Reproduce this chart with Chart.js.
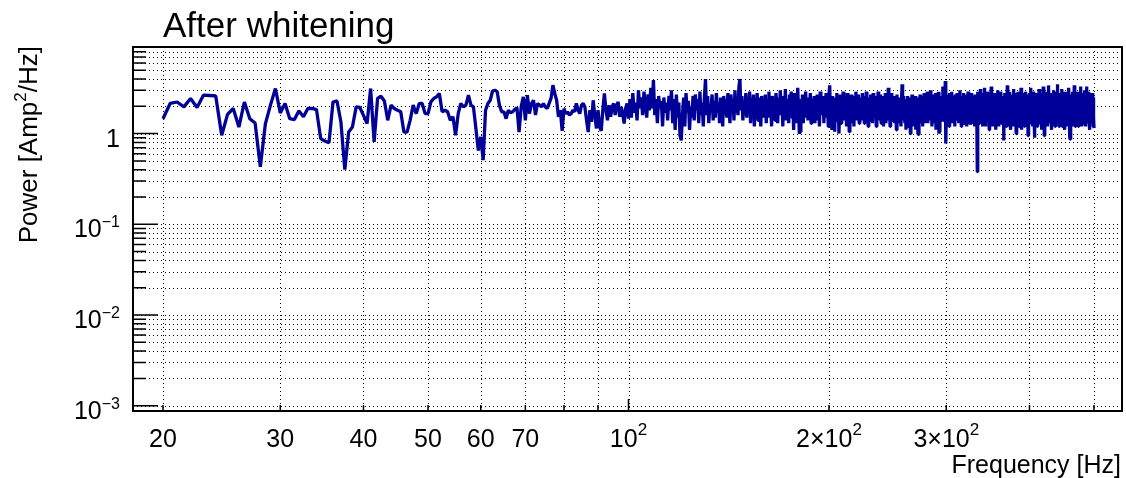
<!DOCTYPE html>
<html>
<head>
<meta charset="utf-8">
<title>After whitening</title>
<script src="https://cdn.jsdelivr.net/npm/chart.js@4.4.1/dist/chart.umd.min.js"></script>
<style>
  html, body { margin: 0; padding: 0; background: #fff; overflow: hidden; }
  canvas { display: block; }
</style>
</head>
<body>
<canvas id="psd" width="1126" height="478" style="width:1126px;height:478px"></canvas>
<script>
// frequency bins: 20 Hz .. 500 Hz, 0.5 Hz apart
const fStart = 20;
const fStep = 0.5;

// whitened power (Amp^2/Hz)
const power20to45 = [
  1.46, 2.15, 2.23, 1.97, 2.44, 1.94, 2.65, 2.63, 2.60, 0.96,
  1.63, 1.89, 1.18, 2.23, 1.46, 1.31, 0.43, 1.29, 2.06, 3.14,
  1.69, 2.15, 1.46, 1.43, 1.78, 1.53, 1.89, 1.90, 1.84, 0.88,
  0.83, 0.79, 2.23, 2.29, 1.34, 0.40, 1.04, 1.18, 1.97, 1.94,
  1.59, 1.29, 3.14, 0.81, 2.44, 2.58, 2.29, 1.40, 2.06, 1.89,
  1.81
];
const power45to100 = [
  1.74, 1.04, 1.04, 1.40, 2.06, 1.66, 2.15, 2.15, 1.66, 1.66,
  2.24, 2.44, 2.54, 2.77, 1.74, 1.81, 1.74, 1.40, 1.53, 0.96,
  1.66, 2.15, 1.97, 2.06, 2.65, 2.06, 1.97, 1.14, 0.65, 0.92,
  0.51, 1.81, 2.15, 2.33, 2.95, 3.01, 2.90, 2.06, 1.74, 1.74,
  1.46, 1.81, 1.70, 1.74, 1.85, 1.93, 1.04, 1.97, 2.54, 1.40,
  2.65, 1.66, 2.15, 2.33, 1.60, 2.15, 2.06, 1.97, 2.15, 1.97,
  1.89, 2.15, 2.44, 3.42, 2.77, 2.33, 1.53, 1.81, 1.07, 1.89,
  1.66, 1.74, 1.60, 1.66, 1.81, 1.74, 2.15, 1.81, 1.66, 2.06,
  2.15, 1.97, 1.40, 1.04, 1.81, 1.35, 2.33, 1.60, 1.14, 1.81,
  1.18, 1.07, 1.81, 2.77, 1.81, 1.40, 2.06, 1.53, 1.97, 2.15,
  1.60, 2.06, 2.24, 1.53, 1.97, 1.66, 1.29, 1.89, 2.15, 1.46
];
const power100to200 = [
  2.4, 1.5, 2.8, 1.7, 2.2, 1.4, 3.0, 1.9, 2.5, 1.6,
  2.9, 2.1, 1.5, 2.7, 1.8, 3.2, 1.9, 3.9, 1.6, 2.4,
  1.3, 2.6, 1.9, 2.3, 1.2, 2.5, 1.7, 2.2, 1.4, 2.6,
  1.8, 3.0, 1.3, 2.4, 1.1, 2.7, 1.5, 2.2, 0.95, 0.84,
  1.6, 2.5, 1.2, 2.8, 1.7, 2.3, 1.1, 2.0, 1.5, 2.6,
  1.4, 2.7, 1.8, 2.4, 1.3, 2.9, 1.6, 2.2, 1.2, 2.5,
  4.0, 1.6, 2.6, 1.3, 2.1, 1.8, 2.7, 1.4, 2.3, 1.5,
  2.8, 1.7, 2.2, 1.3, 2.5, 1.9, 1.2, 2.6, 1.6, 2.4,
  1.5, 2.8, 2.0, 1.3, 2.7, 1.8, 2.4, 1.4, 3.0, 1.7,
  2.5, 1.6, 3.3, 4.0, 1.8, 2.6, 1.4, 2.2, 1.6, 2.8,
  1.5, 2.4, 1.9, 2.9, 1.3, 2.2, 1.7, 2.7, 1.2, 2.3,
  1.6, 2.8, 1.4, 2.5, 2.0, 1.2, 2.6, 1.7, 2.3, 1.5,
  2.7, 1.3, 2.4, 1.8, 2.9, 1.5, 2.1, 1.2, 2.6, 1.7,
  2.3, 1.4, 2.8, 1.9, 1.3, 2.5, 1.6, 3.0, 1.8, 2.2,
  1.2, 2.6, 1.7, 3.1, 1.4, 2.4, 2.0, 1.3, 2.7, 1.6,
  2.9, 1.5, 2.3, 1.1, 2.8, 1.7, 2.5, 1.3, 3.2, 1.9,
  1.0, 1.05, 2.4, 1.6, 2.7, 1.3, 2.2, 1.8, 2.9, 1.5,
  2.5, 1.4, 2.1, 1.7, 2.8, 1.3, 2.4, 1.9, 1.5, 2.6,
  1.3, 2.3, 1.8, 2.7, 1.4, 2.5, 1.2, 2.9, 1.7, 2.2,
  1.6, 2.6, 1.3, 2.4, 1.9, 2.8, 1.5, 2.3, 1.2, 2.7
];
const power200to300 = [
  3.4, 1.5, 2.4, 1.1, 2.6, 1.7, 2.2, 1.05, 2.5, 1.4,
  2.8, 1.6, 2.3, 1.0, 1.8, 2.7, 1.3, 2.5, 1.6, 2.9,
  1.4, 2.2, 1.7, 2.6, 1.2, 2.8, 1.5, 2.4, 1.05, 2.3,
  1.8, 2.7, 1.3, 2.5, 1.9, 1.2, 2.6, 1.6, 2.9, 1.4,
  2.3, 1.5, 2.7, 1.3, 2.5, 1.8, 2.2, 1.4, 2.8, 1.6,
  2.4, 1.3, 2.6, 1.7, 2.9, 1.5, 2.2, 1.2, 2.5, 1.8,
  1.4, 2.7, 1.6, 2.3, 1.3, 2.8, 1.7, 2.4, 1.5, 2.6,
  1.2, 2.5, 1.8, 2.9, 1.4, 2.3, 1.6, 2.7, 1.3, 2.4,
  1.7, 2.6, 1.2, 2.2, 1.5, 2.8, 1.3, 2.4, 1.9, 1.4,
  3.2, 1.6, 2.5, 1.2, 2.3, 1.7, 2.8, 1.4, 2.1, 1.5,
  2.6, 1.3, 2.4, 1.8, 1.1, 2.7, 1.5, 2.2, 1.3, 2.5,
  1.6, 2.5, 1.2, 2.3, 3.5, 1.4, 2.6, 1.7, 2.2, 1.3,
  2.4, 1.1, 2.2, 1.5, 2.6, 1.2, 2.0, 1.4, 2.5, 1.0,
  2.3, 1.3, 2.7, 1.6, 2.1, 1.2, 2.4, 1.5, 2.6, 1.1,
  2.2, 1.4, 2.5, 1.0, 0.98, 2.3, 1.6, 2.7, 1.3, 2.4,
  1.5, 2.6, 1.2, 2.2, 1.7, 2.8, 1.4, 2.4, 1.3, 2.7,
  1.6, 2.9, 1.3, 2.5, 1.8, 2.3, 1.4, 3.0, 1.5, 2.4,
  1.2, 2.7, 1.7, 2.2, 1.3, 2.6, 1.5, 2.8, 1.1, 2.4,
  1.6, 2.5, 1.3, 2.9, 1.0, 1.05, 2.3, 1.7, 2.6, 1.4,
  2.4, 1.5, 3.3, 1.4, 2.6, 1.8, 2.2, 3.8, 0.78, 1.6
];
const power300to400 = [
  2.5, 1.3, 2.7, 1.6, 2.3, 1.2, 2.8, 1.5, 2.4, 1.7,
  2.9, 1.4, 2.2, 1.3, 2.6, 1.8, 2.4, 1.2, 2.7, 1.5,
  2.3, 1.4, 2.8, 1.6, 2.5, 1.3, 2.2, 1.7, 3.0, 1.4,
  2.4, 1.2, 2.6, 1.5, 2.2, 1.8, 2.8, 1.3, 2.5, 1.6,
  2.7, 1.4, 2.3, 1.2, 2.6, 1.7, 2.9, 1.5, 2.2, 1.3,
  2.5, 1.8, 2.4, 1.3, 2.8, 1.6, 2.2, 1.4, 2.6, 1.5,
  2.3, 1.2, 2.7, 1.7, 2.5, 1.8, 2.2, 0.38, 2.9, 1.6,
  2.4, 1.3, 2.6, 1.5, 3.1, 1.4, 2.3, 1.7, 2.8, 1.2,
  2.5, 1.6, 2.2, 1.3, 3.2, 1.5, 2.4, 1.2, 2.7, 1.8,
  2.3, 1.4, 2.9, 1.6, 2.5, 1.1, 2.6, 1.5, 2.2, 1.3,
  3.3, 1.5, 2.4, 1.2, 2.7, 1.7, 2.3, 1.4, 2.8, 1.6,
  2.5, 1.1, 2.6, 1.8, 2.2, 1.3, 3.0, 1.5, 2.4, 1.2,
  2.7, 1.6, 2.3, 1.4, 2.9, 1.3, 2.5, 1.7, 2.2, 1.5,
  2.6, 0.84, 2.4, 1.3, 2.8, 1.6, 2.3, 1.2, 2.5, 1.4,
  3.4, 1.5, 2.6, 1.2, 2.3, 1.7, 2.9, 1.4, 2.4, 1.1,
  2.7, 1.6, 2.2, 1.3, 2.5, 1.8, 3.1, 1.2, 2.4, 1.5,
  2.6, 1.4, 2.8, 1.0, 2.3, 1.6, 2.5, 1.3, 2.9, 1.5,
  2.2, 1.2, 2.7, 1.7, 2.4, 1.4, 3.2, 1.1, 2.5, 1.6,
  2.8, 1.3, 2.3, 1.5, 2.6, 1.2, 2.4, 1.8, 2.9, 1.4,
  2.5, 1.6, 2.2, 1.3, 2.7, 0.95, 1.0, 2.6, 1.5, 2.8
];
const power400to500 = [
  1.4, 2.4, 1.7, 3.2, 1.3, 2.5, 1.5, 2.3, 1.2, 2.7,
  1.6, 2.9, 1.4, 0.9, 2.4, 1.7, 2.6, 1.3, 2.2, 1.5,
  2.8, 1.2, 2.5, 1.6, 2.3, 1.4, 3.1, 1.5, 2.4, 1.3,
  2.6, 1.7, 2.2, 1.1, 2.8, 1.5, 2.4, 1.3, 3.3, 1.6,
  2.5, 0.95, 2.3, 1.4, 2.7, 1.6, 2.2, 1.3, 2.9, 1.5,
  2.4, 1.2, 2.6, 1.7, 3.4, 1.4, 2.3, 1.5, 2.5, 1.3,
  2.8, 1.6, 2.2, 1.1, 2.7, 1.5, 2.4, 1.3, 3.0, 1.7,
  2.3, 1.4, 2.6, 1.2, 2.5, 1.8, 2.9, 1.3, 2.2, 1.5,
  3.5, 1.4, 2.4, 1.6, 2.7, 1.2, 2.3, 1.5, 2.8, 1.3,
  2.5, 1.7, 2.2, 1.4, 3.1, 1.2, 2.6, 1.5, 2.4, 1.3,
  2.7, 1.6, 2.3, 1.1, 2.9, 1.4, 2.5, 1.3, 2.2, 1.7,
  2.8, 1.2, 2.4, 1.5, 2.6, 1.3, 3.2, 1.6, 2.3, 0.9,
  0.87, 2.5, 1.4, 2.7, 1.3, 2.4, 1.7, 2.9, 1.2, 2.6,
  1.5, 2.3, 1.3, 3.4, 1.6, 2.5, 1.2, 2.8, 1.4, 2.2,
  1.7, 2.6, 1.3, 2.4, 1.5, 2.9, 1.2, 2.3, 1.6, 2.7,
  1.4, 2.5, 1.8, 3.3, 1.3, 2.2, 1.5, 2.6, 1.2, 2.4,
  1.6, 2.8, 1.3, 2.5, 1.7, 2.3, 1.4, 3.0, 1.5, 2.6,
  1.2, 2.4, 1.6, 2.7, 1.3, 3.3, 1.5, 2.5, 1.7, 2.3,
  1.3, 2.9, 1.5, 2.4, 1.1, 2.6, 1.6, 2.8, 1.4, 2.5,
  1.3, 2.7, 1.6, 2.3, 1.4, 2.8, 1.2, 2.5, 1.5, 1.15
];

// axis ranges, grid and tick labels
const xRange = [18.03, 550.8];
const yRange = [0.000874, 9.01];
const xGridHz = [20, 30, 40, 50, 60, 70, 80, 90, 100, 200, 300, 400, 500];
const xLabelHz = [20, 30, 40, 50, 60, 70, 100, 200, 300];
const xLabelBase = ['20', '30', '40', '50', '60', '70', '10', '2\u00d710', '3\u00d710'];
const xLabelExp = ['', '', '', '', '', '', '2', '2', '2'];
const yDecades = [0.001, 0.01, 0.1, 1];
const yMinorSteps = [2, 3, 4, 5, 6, 7, 8, 9];
const yLabelBase = ['10', '10', '10', '1'];
const yLabelExp = ['\u22123', '\u22122', '\u22121', ''];

const FONT = '"Liberation Sans", Arial, Helvetica, sans-serif';
const lineColor = '#000099';

const power = [].concat(power20to45, power45to100, power100to200,
                        power200to300, power300to400, power400to500);
const points = power.map((p, i) => ({ x: fStart + i * fStep, y: p }));

// text with an optional superscript, like ROOT's 10^{2}
function drawSup(ctx, base, exp, x, y, align, size, supSize, raise) {
    ctx.font = size + 'px ' + FONT;
    const wb = ctx.measureText(base).width;
    ctx.font = supSize + 'px ' + FONT;
    const we = exp ? ctx.measureText(exp).width : 0;
    const total = wb + we;
    let left = x;
    if (align === 'right') left = x - total;
    else if (align === 'center') left = x - total / 2;
    ctx.textAlign = 'left';
    ctx.textBaseline = 'alphabetic';
    ctx.font = size + 'px ' + FONT;
    ctx.fillText(base, left, y);
    if (exp) {
        ctx.font = supSize + 'px ' + FONT;
        ctx.fillText(exp, left + wb, y - raise);
    }
}

const rootFrame = {
    id: 'rootFrame',
    beforeDatasetsDraw(chart) {
        const { ctx, chartArea: a, scales: { x, y } } = chart;
        ctx.save();
        ctx.strokeStyle = '#000';
        ctx.lineWidth = 1;
        ctx.setLineDash([1, 3]);
        ctx.beginPath();
        yDecades.forEach(d => {
            [1].concat(yMinorSteps).forEach(m => {
                const py = Math.round(y.getPixelForValue(d * m)) + 0.5;
                if (py < a.top || py > a.bottom) return;
                ctx.moveTo(a.left, py);
                ctx.lineTo(a.right, py);
            });
        });
        xGridHz.forEach(f => {
            const px = Math.round(x.getPixelForValue(f)) + 0.5;
            ctx.moveTo(px, a.top);
            ctx.lineTo(px, a.bottom);
        });
        ctx.stroke();
        ctx.restore();
    },
    afterDatasetsDraw(chart) {
        const { ctx, chartArea: a, scales: { x, y } } = chart;
        ctx.save();
        ctx.setLineDash([]);
        ctx.strokeStyle = '#000';

        // y ticks, pointing into the frame
        ctx.lineWidth = 1.5;
        ctx.beginPath();
        yDecades.forEach(d => {
            [1].concat(yMinorSteps).forEach(m => {
                const py = y.getPixelForValue(d * m);
                if (py < a.top || py > a.bottom) return;
                const len = m === 1 ? 25 : 13;
                ctx.moveTo(a.left, py);
                ctx.lineTo(a.left + len, py);
            });
        });
        // x ticks
        xGridHz.forEach(f => {
            const px = x.getPixelForValue(f);
            const len = f === 100 ? 12 : 6;
            ctx.moveTo(px, a.bottom);
            ctx.lineTo(px, a.bottom - len);
        });
        ctx.stroke();

        // frame
        ctx.lineWidth = 2;
        ctx.strokeRect(a.left, a.top, a.right - a.left, a.bottom - a.top);

        ctx.fillStyle = '#000';
        // y labels
        yDecades.forEach((d, i) => {
            const py = y.getPixelForValue(d);
            drawSup(ctx, yLabelBase[i], yLabelExp[i], 120, py + 13, 'right', 25, 16, 10);
        });
        // x labels
        xLabelHz.forEach((f, i) => {
            const px = x.getPixelForValue(f);
            drawSup(ctx, xLabelBase[i], xLabelExp[i], px, 447, 'center', 25, 17, 12);
        });

        // titles
        ctx.font = '35px ' + FONT;
        ctx.textAlign = 'left';
        ctx.fillText('After whitening', 163, 37);

        ctx.font = '25px ' + FONT;
        ctx.textAlign = 'right';
        ctx.fillText('Frequency [Hz]', 1121, 473);

        ctx.translate(37, 46);
        ctx.rotate(-Math.PI / 2);
        ctx.font = '26px ' + FONT;
        const w1 = ctx.measureText('Power [Amp').width;
        const w3 = ctx.measureText('/Hz]').width;
        ctx.font = '17px ' + FONT;
        const w2 = ctx.measureText('2').width;
        let sx = -(w1 + w2 + w3);
        ctx.textAlign = 'left';
        ctx.font = '26px ' + FONT;
        ctx.fillText('Power [Amp', sx, 0);
        ctx.font = '17px ' + FONT;
        ctx.fillText('2', sx + w1, -11);
        ctx.font = '26px ' + FONT;
        ctx.fillText('/Hz]', sx + w1 + w2, 0);
        ctx.restore();
    }
};

const ctx = document.getElementById('psd').getContext('2d');
const chart = new Chart(ctx, {
    type: 'line',
    data: {
        datasets: [{
            label: 'Power',
            data: points,
            borderColor: lineColor,
            borderWidth: 3.3,
            borderJoinStyle: 'bevel',
            pointRadius: 0,
            tension: 0,
            fill: false
        }]
    },
    options: {
        responsive: false,
        devicePixelRatio: 1,
        animation: false,
        parsing: false,
        layout: { padding: { left: 133, right: 4, top: 47, bottom: 67 } },
        plugins: {
            legend: { display: false },
            title: { display: false },
            tooltip: { enabled: false }
        },
        scales: {
            x: { type: 'logarithmic', min: xRange[0], max: xRange[1], display: false },
            y: { type: 'logarithmic', min: yRange[0], max: yRange[1], display: false }
        }
    },
    plugins: [rootFrame]
});
</script>
</body>
</html>
